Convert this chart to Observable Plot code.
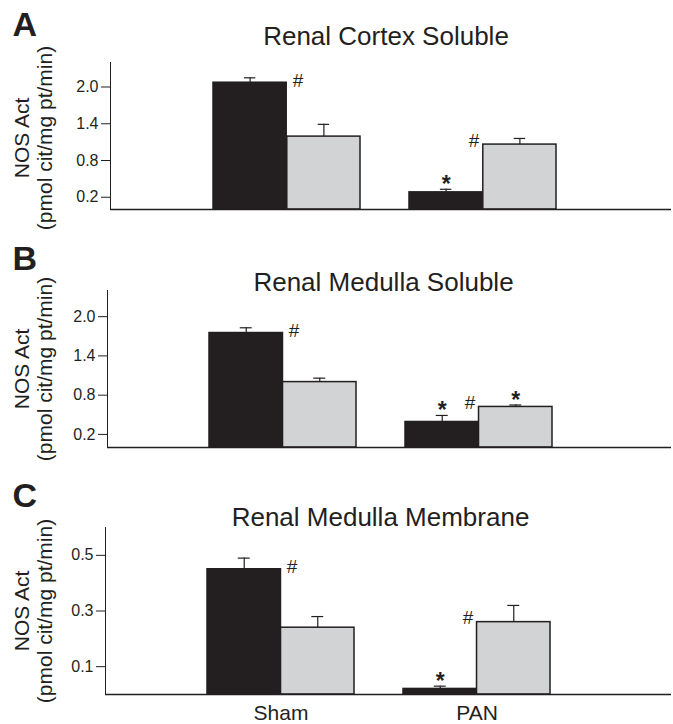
<!DOCTYPE html>
<html>
<head>
<meta charset="utf-8">
<script src="https://cdn.jsdelivr.net/npm/d3@7"></script>
<script src="https://cdn.jsdelivr.net/npm/@observablehq/plot@0.6"></script>
<style>
  body { margin: 0; background: #fff; }
  #chart { width: 673px; }
  #chart svg { display: block; }
  g[aria-label="x-axis tick label"] { font-size: 21px; }
</style>
</head>
<body>
<div id="chart"></div>
<script>
// ---- data ----
const groups = ["Sham", "PAN"];
const series = ["dark", "light"];

// order: Sham-dark, Sham-light, PAN-dark, PAN-light
const cortexSolubleMean = [2.07, 1.19, 0.28, 1.06];
const cortexSolubleSEM  = [0.08, 0.20, 0.05, 0.10];
const cortexSolubleSig  = ["#", "", "*", "#"];

const medullaSolubleMean = [1.75, 1.00, 0.39, 0.62];
const medullaSolubleSEM  = [0.08, 0.06, 0.10, 0.03];
const medullaSolubleSig  = ["#", "", "*", "#*"];

const medullaMembraneMean = [0.45, 0.24, 0.02, 0.26];
const medullaMembraneSEM  = [0.04, 0.04, 0.01, 0.06];
const medullaMembraneSig  = ["#", "", "*", "#"];

const panelLetters = ["A", "B", "C"];
const panelTitles = ["Renal Cortex Soluble", "Renal Medulla Soluble", "Renal Medulla Membrane"];
const yTicksSoluble = [0.2, 0.8, 1.4, 2.0];
const yTicksMembrane = [0.1, 0.3, 0.5];
const yLabelLines = ["NOS Act", "(pmol cit/mg pt/min)"];

// ---- layout ----
const W = 673;
const FONT = "Liberation Sans, Arial, Helvetica, sans-serif";
const INK = "#231f20";
const GRAY = "#d1d3d4";

function panel(cfg) {
  const rows = [];
  groups.forEach((g, gi) => series.forEach((s, si) => {
    const k = gi * 2 + si;
    rows.push({group: g, series: s, mean: cfg.mean[k], sem: cfg.sem[k], sig: cfg.sig[k]});
  }));
  const bw = d3.scaleBand().domain(groups).range(cfg.range)
    .paddingInner(0.25).paddingOuter(0.52).align(0.5).bandwidth();
  const q = bw / 4, cap = 6;
  const dark = rows.filter(d => d.series === "dark");
  const light = rows.filter(d => d.series === "light");
  const top = d => d.mean + d.sem;
  const left = cfg.range[0];

  return Plot.plot({
    width: W, height: cfg.height,
    marginLeft: left, marginRight: 2, marginTop: cfg.top, marginBottom: cfg.bottom,
    style: {fontFamily: FONT, fontSize: "16px", color: INK, background: "#fff", overflow: "visible"},
    x: {type: "band", domain: groups, range: cfg.range, paddingInner: 0.25, paddingOuter: 0.52, align: 0.5,
        axis: cfg.showX ? "bottom" : null, tickSize: 0, tickPadding: 11, label: null},
    y: {domain: cfg.yDomain, ticks: cfg.yTicks, tickFormat: ".1f", tickSize: 9, tickPadding: 3, line: true, label: null},
    marks: [
      Plot.barY(dark, {x: "group", y: "mean", fill: INK, stroke: INK, strokeWidth: 1.5, insetRight: bw / 2}),
      Plot.barY(light, {x: "group", y: "mean", fill: GRAY, stroke: INK, strokeWidth: 1.5, insetLeft: bw / 2}),
      Plot.ruleX(dark, {x: "group", y1: "mean", y2: top, dx: -q, stroke: INK, strokeWidth: 1.2}),
      Plot.ruleX(light, {x: "group", y1: "mean", y2: top, dx: q, stroke: INK, strokeWidth: 1.2}),
      Plot.tickY(dark, {x: "group", y: top, insetLeft: q - cap, insetRight: bw - q - cap, stroke: INK, strokeWidth: 1.2}),
      Plot.tickY(light, {x: "group", y: top, insetLeft: 3 * q - cap, insetRight: q - cap, stroke: INK, strokeWidth: 1.2}),
      Plot.ruleY([0], {stroke: INK, strokeWidth: 1.5}),
      // significance marks
      Plot.text(dark.filter(d => d.sig.includes("#")), {x: "group", y: "mean", text: () => "#", dx: 11, dy: 4, lineAnchor: "bottom", fontSize: 19, fill: INK}),
      Plot.text(light.filter(d => d.sig.includes("#")), {x: "group", y: "mean", text: () => "#", dx: -9, dy: 2, lineAnchor: "bottom", fontSize: 19, fill: INK}),
      Plot.text(dark.filter(d => d.sig.includes("*")), {x: "group", y: top, text: () => "*", dx: -q, dy: 3, lineAnchor: "bottom", fontSize: 23, fontWeight: "bold", fill: INK}),
      Plot.text(light.filter(d => d.sig.includes("*")), {x: "group", y: top, text: () => "*", dx: q, dy: 3, lineAnchor: "bottom", fontSize: 23, fontWeight: "bold", fill: INK}),
      // y label
      Plot.text([yLabelLines[0]], {frameAnchor: "left", rotate: -90, textAnchor: "middle", dx: 22 - left, dy: cfg.labelDy, fontSize: 21, lineAnchor: "middle", fill: INK}),
      Plot.text([yLabelLines[1]], {frameAnchor: "left", rotate: -90, textAnchor: "middle", dx: 45 - left, dy: cfg.labelDy, fontSize: 21, lineAnchor: "middle", fill: INK}),
      // panel letter and title
      Plot.text([cfg.letter], {frameAnchor: "top-left", dx: 12 - left, dy: cfg.letterDy, textAnchor: "start", lineAnchor: "bottom", fontSize: 34, fontWeight: "bold", fill: INK}),
      Plot.text([cfg.title], {frameAnchor: "top", textAnchor: "middle", dx: cfg.titleDx, dy: cfg.titleDy, lineAnchor: "bottom", fontSize: 26, fill: INK})
    ]
  });
}

const chart = document.getElementById("chart");
chart.append(panel({
  letter: panelLetters[0], title: panelTitles[0],
  mean: cortexSolubleMean, sem: cortexSolubleSEM, sig: cortexSolubleSig,
  yDomain: [0, 2.4], yTicks: yTicksSoluble,
  height: 240, top: 62, bottom: 31, range: [110, 659],
  letterDy: -27, titleDx: -5, titleDy: -18, labelDy: 2, showX: false
}));
chart.append(panel({
  letter: panelLetters[1], title: panelTitles[1],
  mean: medullaSolubleMean, sem: medullaSolubleSEM, sig: medullaSolubleSig,
  yDomain: [0, 2.4], yTicks: yTicksSoluble,
  height: 240, top: 50, bottom: 33, range: [107, 654],
  letterDy: -21, titleDx: -6, titleDy: 0, labelDy: 0, showX: false
}));
chart.append(panel({
  letter: panelLetters[2], title: panelTitles[2],
  mean: medullaMembraneMean, sem: medullaMembraneSEM, sig: medullaMembraneSig,
  yDomain: [0, 0.6], yTicks: yTicksMembrane,
  height: 244, top: 47, bottom: 30, range: [105, 652],
  letterDy: -21, titleDx: -8, titleDy: -2, labelDy: 0, showX: true
}));
</script>
</body>
</html>
